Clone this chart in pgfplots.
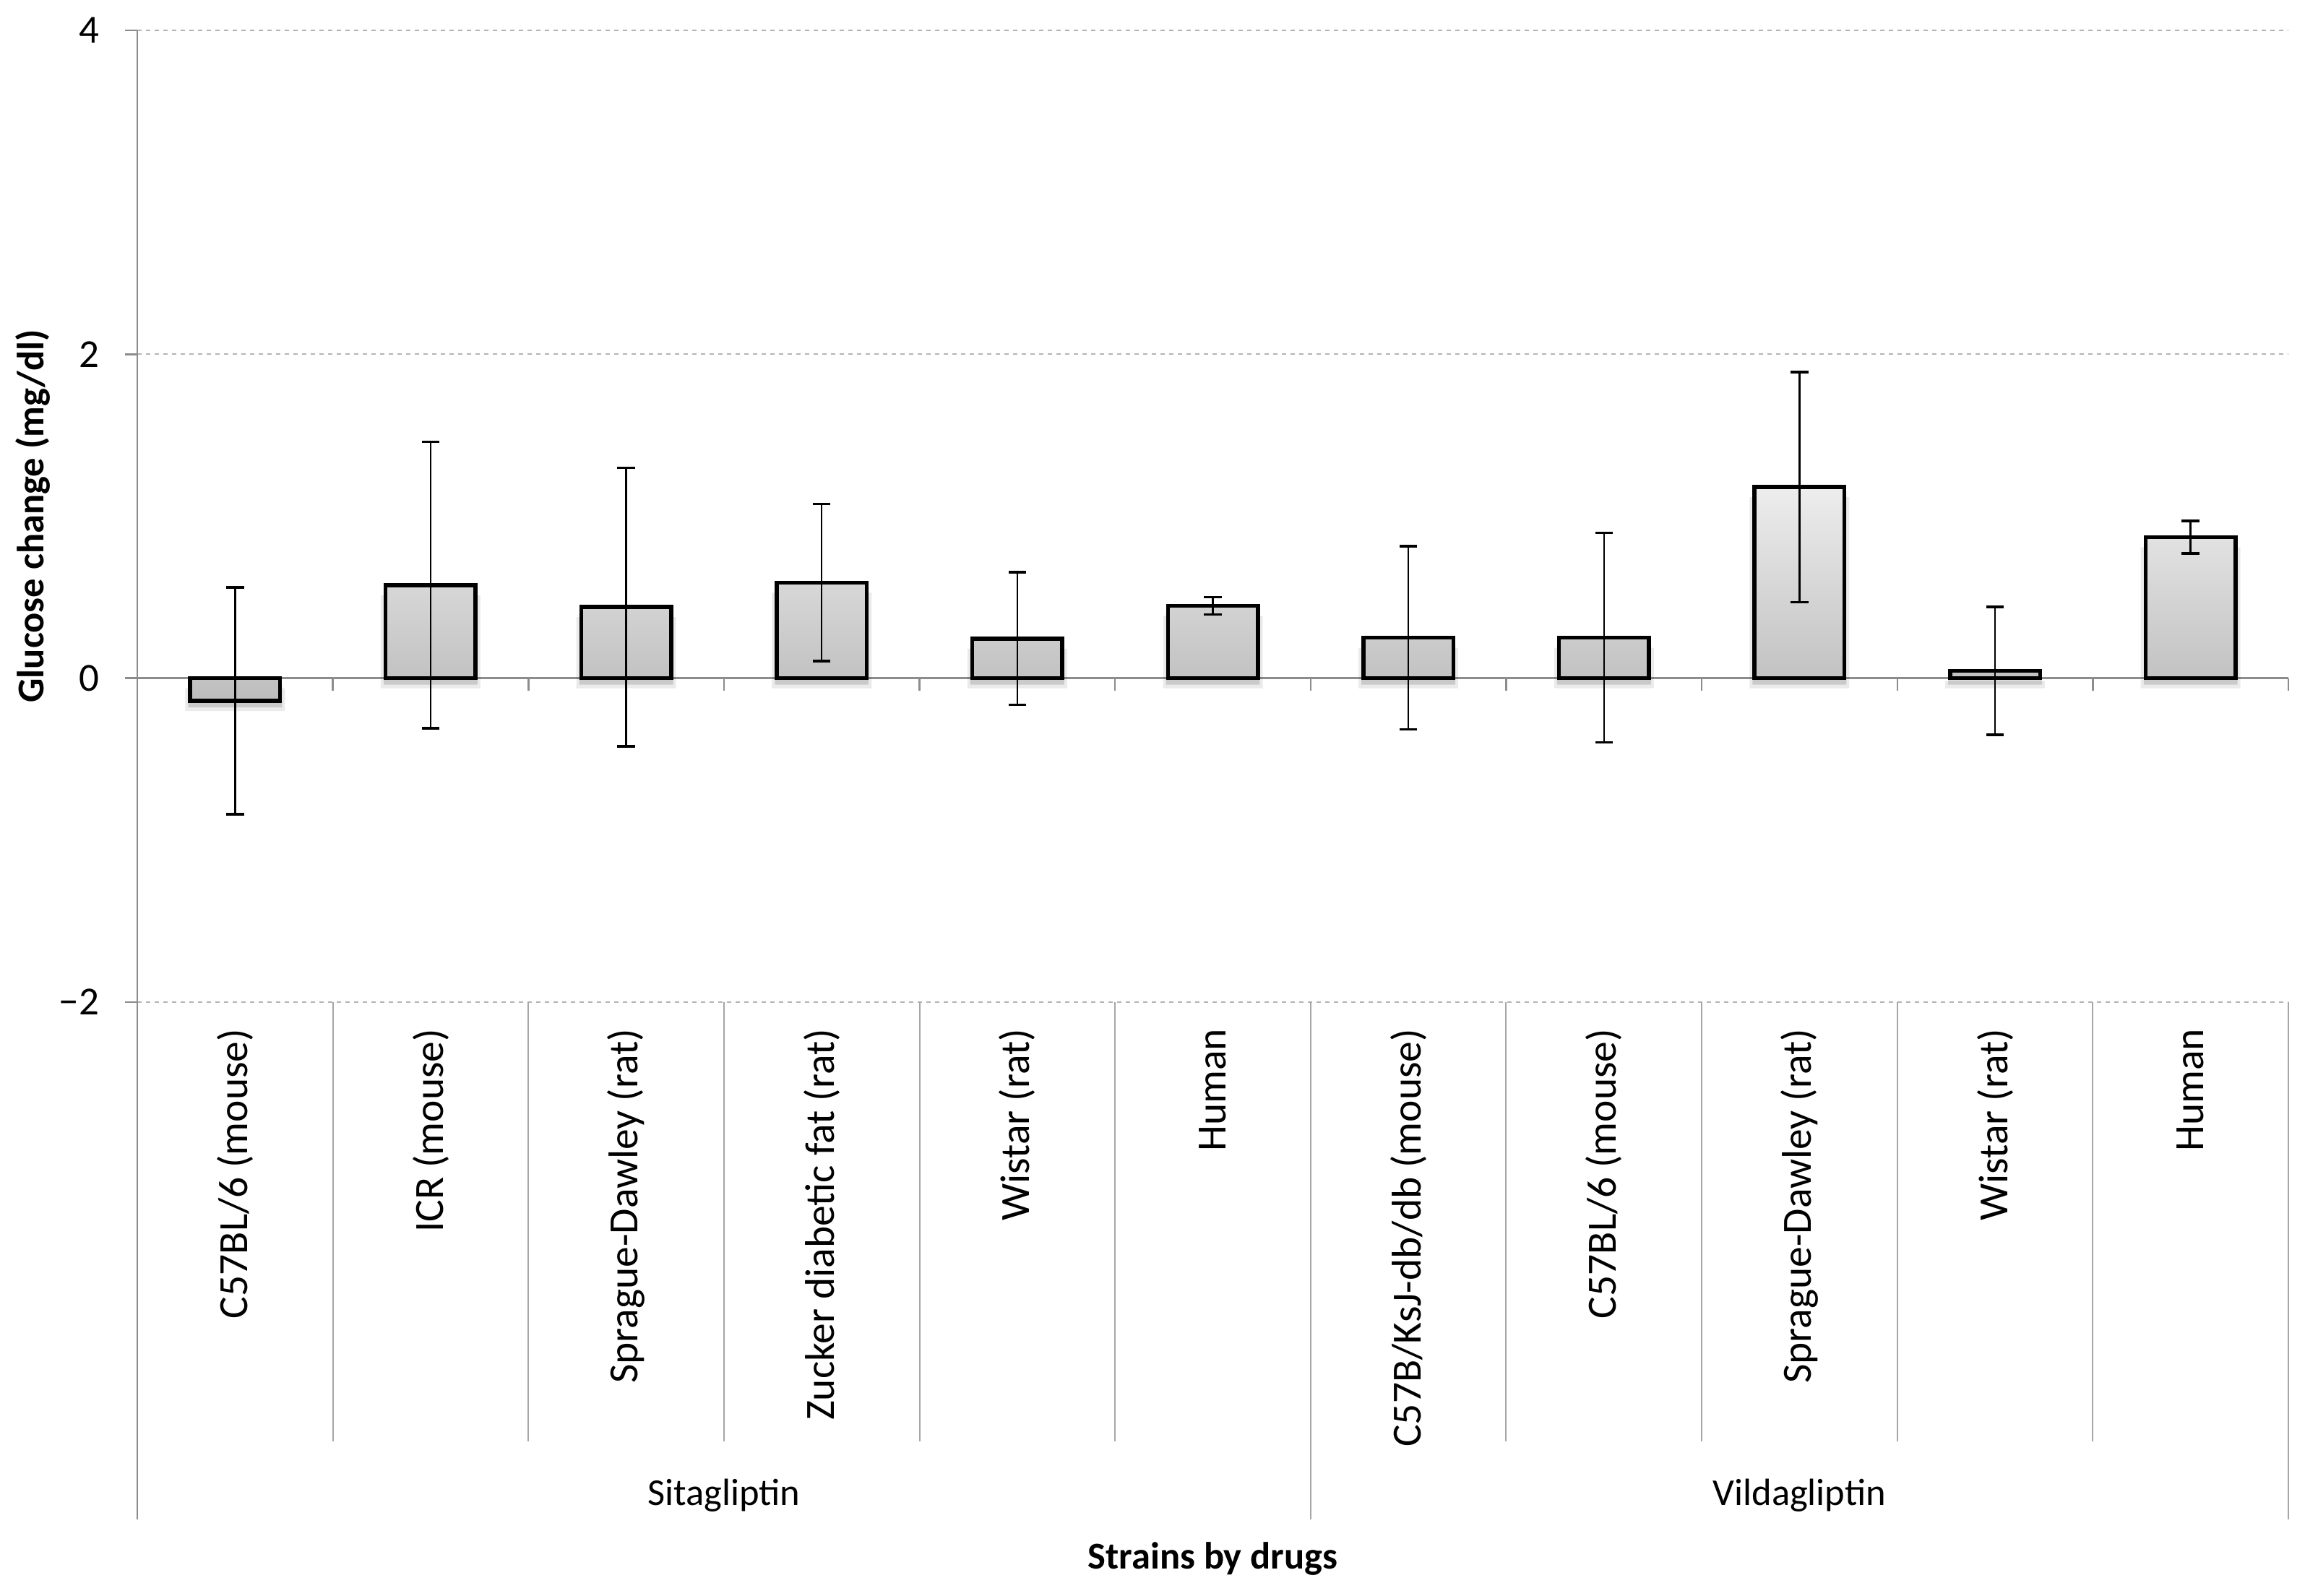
\documentclass[border=0pt]{standalone}
\usepackage{pgfplots}
\pgfplotsset{compat=1.18}
\usepackage{pgfplotstable}
\usepackage{fontspec}
\setmainfont{Carlito}

\definecolor{axisgray}{HTML}{8C8C8C}
\definecolor{gridgray}{HTML}{B4B4B4}
\definecolor{sepgray}{HTML}{A6A6A6}
\definecolor{barlight}{HTML}{EDEDED}
\definecolor{bardark}{HTML}{BDBDBD}

% glucose change per strain, x = category centre
\pgfplotstableread{
x     y      e
0.5  -0.14   0.70
1.5   0.575  0.885
2.5   0.44   0.86
3.5   0.59   0.485
4.5   0.245  0.41
5.5   0.447  0.053
6.5   0.25   0.565
7.5   0.25   0.647
8.5   1.18   0.71
9.5   0.045  0.395
10.5  0.87   0.10
}\glucose

\begin{document}
\begin{tikzpicture}
\useasboundingbox (-38pt,-164.2pt) rectangle (603.6pt,277.4pt);
\begin{axis}[
  at={(0,0)}, anchor=south west,
  scale only axis,
  width=595.4pt, height=269pt,
  xmin=0, xmax=11,
  ymin=-2, ymax=4,
  clip=false,
  axis line style={draw=none},
  ytick={-2,0,2,4},
  yticklabels={−2,0,2,4},
  ytick pos=left,
  yticklabel style={font=\fontsize{11}{13}\selectfont, inner sep=0pt, xshift=-7pt},
  ymajorgrids,
  grid style={gridgray, dash pattern=on 1.2pt off 1.2pt, line width=0.35pt},
  ytick style={axisgray, line width=0.5pt},
  tick align=outside,
  major tick length=3.4pt,
  xtick={0.5,1.5,...,10.5},
  xticklabels={C57BL/6 (mouse),ICR (mouse),Sprague-Dawley (rat),Zucker diabetic fat (rat),Wistar (rat),Human,C57B/KsJ-db/db (mouse),C57BL/6 (mouse),Sprague-Dawley (rat),Wistar (rat),Human},
  xtick pos=left,
  xtick style={draw=none},
  xticklabel style={rotate=90, anchor=east, inner sep=0pt, font=\fontsize{11.5}{13}\selectfont},
  xticklabel shift=3.8pt,
  ylabel={Glucose change (mg/dl)},
  ylabel style={at={(axis description cs:-0.0487,0.5)}, anchor=center, font=\fontsize{10.5}{12}\selectfont\bfseries},
  xlabel={Strains by drugs},
  xlabel style={at={(axis description cs:0.5,-0.5732)}, anchor=center, font=\fontsize{10.5}{12}\selectfont\bfseries},
]
% y axis line, zero line and its ticks
\draw[axisgray, line width=0.55pt] (axis cs:0,4) -- ([yshift=-143.2pt]axis cs:0,-2);
\draw[axisgray, line width=0.5pt] (axis cs:0,0) -- (axis cs:11,0);
\pgfplotsinvokeforeach{1,...,11}{
  \draw[axisgray, line width=0.5pt] (axis cs:#1,0) -- ([yshift=-3.4pt]axis cs:#1,0);
}
% category separators below the plot
\pgfplotsinvokeforeach{1,2,3,4,5,7,8,9,10}{
  \draw[sepgray, line width=0.4pt] (axis cs:#1,-2) -- ([yshift=-121.6pt]axis cs:#1,-2);
}
\pgfplotsinvokeforeach{6,11}{
  \draw[sepgray, line width=0.4pt] (axis cs:#1,-2) -- ([yshift=-143.2pt]axis cs:#1,-2);
}
\node[font=\fontsize{10.5}{12}\selectfont] at ([yshift=-136.6pt]axis cs:3,-2) {Sitagliptin};
\node[font=\fontsize{10.5}{12}\selectfont] at ([yshift=-136.6pt]axis cs:8.5,-2) {Vildagliptin};

% soft shadow under the bars
\addplot[ybar, bar width=0.51, draw=none, fill=black, fill opacity=0.08, yshift=-2.8pt, forget plot]
  table[x=x, y=y] {\glucose};
\addplot[ybar, bar width=0.48, draw=none, fill=black, fill opacity=0.14, yshift=-1.8pt, forget plot]
  table[x=x, y=y] {\glucose};

\addplot[ybar, bar width=0.46, draw=black, line width=1.1pt,
  top color=barlight, bottom color=bardark,
  error bars/.cd, y dir=both, y explicit,
  error bar style={black, line width=0.5pt},
  error mark options={black, rotate=90, mark size=2.45pt, line width=0.7pt}]
  table[x=x, y=y, y error=e] {\glucose};
\end{axis}
\end{tikzpicture}
\end{document}
